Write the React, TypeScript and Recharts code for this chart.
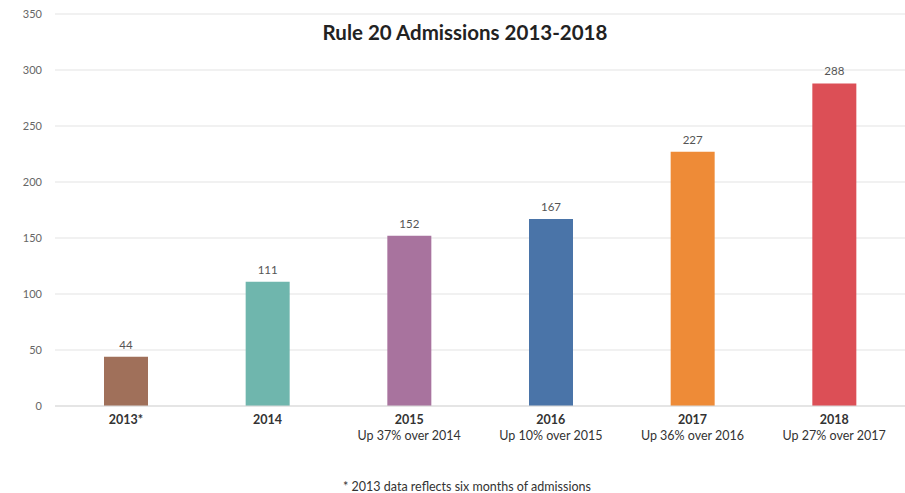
import { BarChart, Bar, XAxis, YAxis, CartesianGrid, Cell, LabelList } from 'recharts';

const years = ['2013*', '2014', '2015', '2016', '2017', '2018'];
const admissions = [44, 111, 152, 167, 227, 288];
const growthNotes = ['', '', 'Up 37% over 2014', 'Up 10% over 2015', 'Up 36% over 2016', 'Up 27% over 2017'];
const barColors = ['#a0705a', '#6fb6ad', '#a8739e', '#4a74a8', '#ee8b37', '#dc4f56'];
const yTicks = [0, 50, 100, 150, 200, 250, 300, 350];

const data = years.map((year, i) => ({ year, value: admissions[i], note: growthNotes[i] }));

const FONT = 'Lato, "Open Sans", sans-serif';

function YearTick({ x, y, payload, index }: any) {
  const note = growthNotes[index];
  return (
    <g transform={`translate(${x},${y})`}>
      <text x={0} y={0} dy={10} textAnchor="middle" fontSize={12.5} fontWeight={700} fill="#333" fontFamily={FONT}>
        {payload.value}
      </text>
      {note && (
        <text x={0} y={0} dy={26} textAnchor="middle" fontSize={12.5} fill="#333" fontFamily={FONT}>
          {note}
        </text>
      )}
    </g>
  );
}

export default function App() {
  return (
    <div style={{ position: 'absolute', left: 0, top: 0, width: 905, height: 493, background: '#fff', fontFamily: FONT }}>
      <BarChart
        width={905}
        height={493}
        data={data}
        margin={{ top: 14, right: 0, left: 0, bottom: 0 }}
        barSize={44}
      >
        <CartesianGrid vertical={false} stroke="#e3e3e3" />
        <XAxis
          dataKey="year"
          tick={<YearTick />}
          tickLine={false}
          axisLine={{ stroke: '#d9d9d9' }}
          interval={0}
          height={87}
        />
        <YAxis
          domain={[0, 350]}
          ticks={yTicks}
          width={55}
          tickLine={false}
          axisLine={false}
          tickMargin={7}
          tick={{ fill: '#666', fontSize: 11, fontFamily: FONT }}
        />
        <Bar dataKey="value" isAnimationActive={false}>
          {data.map((entry, index) => (
            <Cell key={`cell-${index}`} fill={barColors[index]} />
          ))}
          <LabelList dataKey="value" position="top" offset={8} fill="#555" fontSize={11.5} fontFamily={FONT} />
        </Bar>
      </BarChart>
      <div style={{ position: 'absolute', left: 0, width: 930, top: 20, textAlign: 'center', fontSize: 20.5, fontWeight: 700, color: '#222' }}>
        Rule 20 Admissions 2013-2018
      </div>
      <div style={{ position: 'absolute', left: 0, width: 934, top: 479, textAlign: 'center', fontSize: 12.5, color: '#333' }}>
        * 2013 data reflects six months of admissions
      </div>
    </div>
  );
}
